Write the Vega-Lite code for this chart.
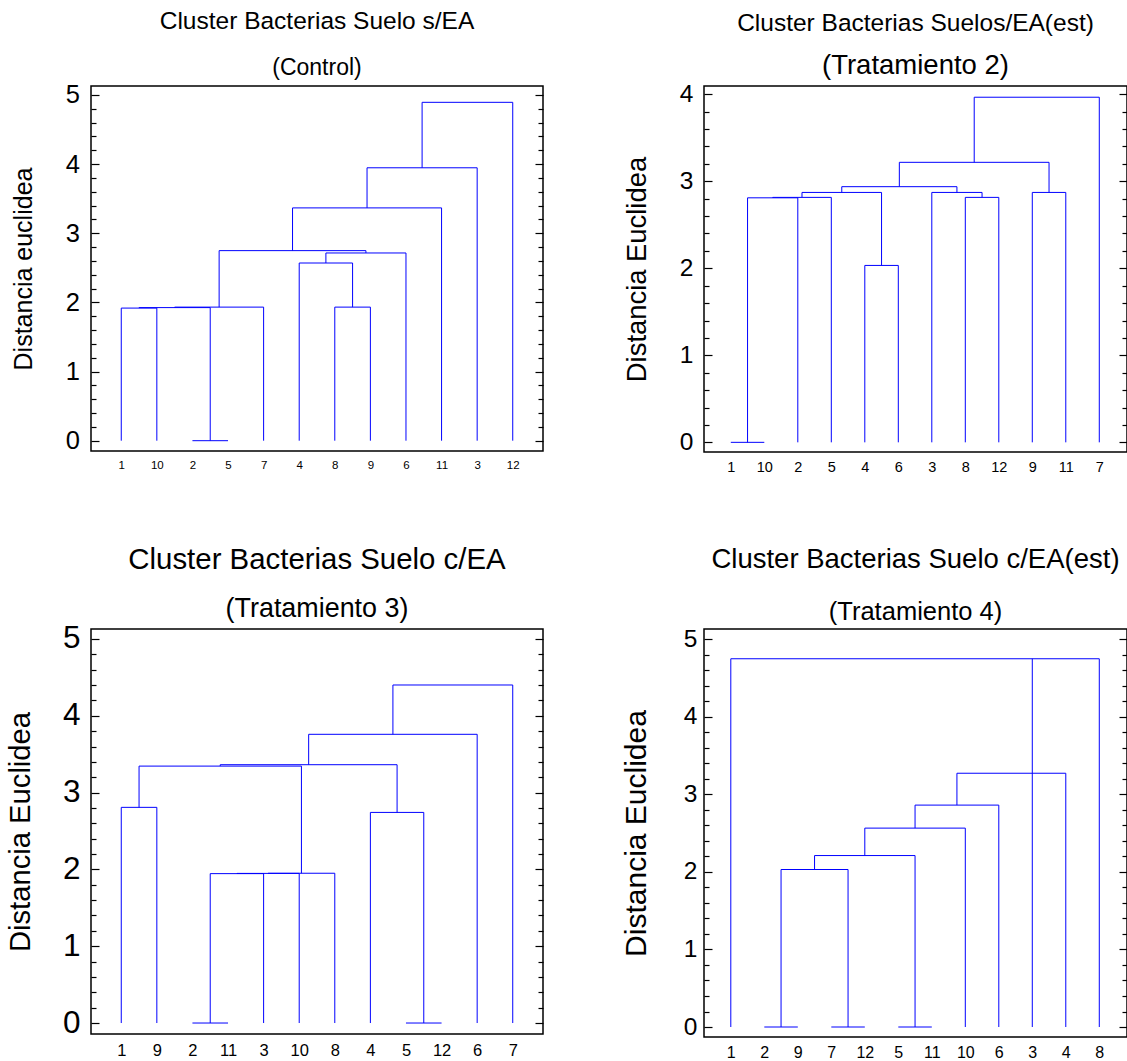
{
  "$schema": "https://vega.github.io/schema/vega-lite/v6.json",
  "autosize": "none",
  "padding": {"left": 91, "top": 86, "right": 1036, "bottom": 975},
  "background": "white",
  "config": {
    "font": "Liberation Sans",
    "view": {"stroke": "#000000", "strokeWidth": 1.5},
    "axis": {"grid": false, "domain": false, "labelColor": "#000000", "titleColor": "#000000", "titleFontWeight": "normal", "tickColor": "#000000", "tickWidth": 1.2, "labelOverlap": false, "labelFlush": false},
    "title": {"color": "#000000", "subtitleColor": "#000000", "fontWeight": "normal", "subtitleFontWeight": "normal", "anchor": "middle", "frame": "group"}
  },
  "datasets": {
    "p1": [
      {"x": 3, "x2": 4, "y": 0, "y2": 0},
      {"x": 1, "x2": 2, "y": 1.918, "y2": 1.918},
      {"x": 1.5, "x2": 3.5, "y": 1.925, "y2": 1.925},
      {"x": 2.5, "x2": 5, "y": 1.932, "y2": 1.932},
      {"x": 7, "x2": 8, "y": 1.932, "y2": 1.932},
      {"x": 6, "x2": 7.5, "y": 2.57, "y2": 2.57},
      {"x": 6.75, "x2": 9, "y": 2.715, "y2": 2.715},
      {"x": 3.75, "x2": 7.875, "y": 2.749, "y2": 2.749},
      {"x": 5.8125, "x2": 10, "y": 3.367, "y2": 3.367},
      {"x": 7.906, "x2": 11, "y": 3.947, "y2": 3.947},
      {"x": 9.453, "x2": 12, "y": 4.894, "y2": 4.894},
      {"x": 1, "x2": 1, "y": 0, "y2": 1.918},
      {"x": 2, "x2": 2, "y": 0, "y2": 1.918},
      {"x": 1.5, "x2": 1.5, "y": 1.918, "y2": 1.925},
      {"x": 3.5, "x2": 3.5, "y": 0, "y2": 1.925},
      {"x": 2.5, "x2": 2.5, "y": 1.925, "y2": 1.932},
      {"x": 5, "x2": 5, "y": 0, "y2": 1.932},
      {"x": 7, "x2": 7, "y": 0, "y2": 1.932},
      {"x": 8, "x2": 8, "y": 0, "y2": 1.932},
      {"x": 6, "x2": 6, "y": 0, "y2": 2.57},
      {"x": 7.5, "x2": 7.5, "y": 1.932, "y2": 2.57},
      {"x": 6.75, "x2": 6.75, "y": 2.57, "y2": 2.715},
      {"x": 9, "x2": 9, "y": 0, "y2": 2.715},
      {"x": 3.75, "x2": 3.75, "y": 1.932, "y2": 2.749},
      {"x": 7.875, "x2": 7.875, "y": 2.715, "y2": 2.749},
      {"x": 5.8125, "x2": 5.8125, "y": 2.749, "y2": 3.367},
      {"x": 10, "x2": 10, "y": 0, "y2": 3.367},
      {"x": 7.906, "x2": 7.906, "y": 3.367, "y2": 3.947},
      {"x": 11, "x2": 11, "y": 0, "y2": 3.947},
      {"x": 9.453, "x2": 9.453, "y": 3.947, "y2": 4.894},
      {"x": 12, "x2": 12, "y": 0, "y2": 4.894}
    ],
    "p2": [
      {"x": 1, "x2": 2, "y": 0, "y2": 0},
      {"x": 1.5, "x2": 3, "y": 2.81, "y2": 2.81},
      {"x": 2.25, "x2": 4, "y": 2.815, "y2": 2.815},
      {"x": 5, "x2": 6, "y": 2.033, "y2": 2.033},
      {"x": 3.125, "x2": 5.5, "y": 2.872, "y2": 2.872},
      {"x": 8, "x2": 9, "y": 2.815, "y2": 2.815},
      {"x": 7, "x2": 8.5, "y": 2.872, "y2": 2.872},
      {"x": 4.3125, "x2": 7.75, "y": 2.938, "y2": 2.938},
      {"x": 10, "x2": 11, "y": 2.872, "y2": 2.872},
      {"x": 6.031, "x2": 10.5, "y": 3.218, "y2": 3.218},
      {"x": 8.266, "x2": 12, "y": 3.966, "y2": 3.966},
      {"x": 1.5, "x2": 1.5, "y": 0, "y2": 2.81},
      {"x": 3, "x2": 3, "y": 0, "y2": 2.81},
      {"x": 2.25, "x2": 2.25, "y": 2.81, "y2": 2.815},
      {"x": 4, "x2": 4, "y": 0, "y2": 2.815},
      {"x": 5, "x2": 5, "y": 0, "y2": 2.033},
      {"x": 6, "x2": 6, "y": 0, "y2": 2.033},
      {"x": 3.125, "x2": 3.125, "y": 2.815, "y2": 2.872},
      {"x": 5.5, "x2": 5.5, "y": 2.033, "y2": 2.872},
      {"x": 8, "x2": 8, "y": 0, "y2": 2.815},
      {"x": 9, "x2": 9, "y": 0, "y2": 2.815},
      {"x": 7, "x2": 7, "y": 0, "y2": 2.872},
      {"x": 8.5, "x2": 8.5, "y": 2.815, "y2": 2.872},
      {"x": 4.3125, "x2": 4.3125, "y": 2.872, "y2": 2.938},
      {"x": 7.75, "x2": 7.75, "y": 2.872, "y2": 2.938},
      {"x": 10, "x2": 10, "y": 0, "y2": 2.872},
      {"x": 11, "x2": 11, "y": 0, "y2": 2.872},
      {"x": 6.031, "x2": 6.031, "y": 2.938, "y2": 3.218},
      {"x": 10.5, "x2": 10.5, "y": 2.872, "y2": 3.218},
      {"x": 8.266, "x2": 8.266, "y": 3.218, "y2": 3.966},
      {"x": 12, "x2": 12, "y": 0, "y2": 3.966}
    ],
    "p3": [
      {"x": 1, "x2": 2, "y": 2.808, "y2": 2.808},
      {"x": 3, "x2": 4, "y": 0, "y2": 0},
      {"x": 3.5, "x2": 5, "y": 1.945, "y2": 1.945},
      {"x": 4.25, "x2": 6, "y": 1.948, "y2": 1.948},
      {"x": 5.125, "x2": 7, "y": 1.95, "y2": 1.95},
      {"x": 1.5, "x2": 6.0625, "y": 3.345, "y2": 3.345},
      {"x": 9, "x2": 10, "y": 0, "y2": 0},
      {"x": 8, "x2": 9.5, "y": 2.742, "y2": 2.742},
      {"x": 3.781, "x2": 8.75, "y": 3.363, "y2": 3.363},
      {"x": 6.266, "x2": 11, "y": 3.759, "y2": 3.759},
      {"x": 8.633, "x2": 12, "y": 4.401, "y2": 4.401},
      {"x": 1, "x2": 1, "y": 0, "y2": 2.808},
      {"x": 2, "x2": 2, "y": 0, "y2": 2.808},
      {"x": 3.5, "x2": 3.5, "y": 0, "y2": 1.945},
      {"x": 5, "x2": 5, "y": 0, "y2": 1.945},
      {"x": 4.25, "x2": 4.25, "y": 1.945, "y2": 1.948},
      {"x": 6, "x2": 6, "y": 0, "y2": 1.948},
      {"x": 5.125, "x2": 5.125, "y": 1.948, "y2": 1.95},
      {"x": 7, "x2": 7, "y": 0, "y2": 1.95},
      {"x": 1.5, "x2": 1.5, "y": 2.808, "y2": 3.345},
      {"x": 6.0625, "x2": 6.0625, "y": 1.95, "y2": 3.345},
      {"x": 8, "x2": 8, "y": 0, "y2": 2.742},
      {"x": 9.5, "x2": 9.5, "y": 0, "y2": 2.742},
      {"x": 3.781, "x2": 3.781, "y": 3.345, "y2": 3.363},
      {"x": 8.75, "x2": 8.75, "y": 2.742, "y2": 3.363},
      {"x": 6.266, "x2": 6.266, "y": 3.363, "y2": 3.759},
      {"x": 11, "x2": 11, "y": 0, "y2": 3.759},
      {"x": 8.633, "x2": 8.633, "y": 3.759, "y2": 4.401},
      {"x": 12, "x2": 12, "y": 0, "y2": 4.401}
    ],
    "p4": [
      {"x": 2, "x2": 3, "y": 0, "y2": 0},
      {"x": 4, "x2": 5, "y": 0, "y2": 0},
      {"x": 6, "x2": 7, "y": 0, "y2": 0},
      {"x": 2.5, "x2": 4.5, "y": 2.032, "y2": 2.032},
      {"x": 3.5, "x2": 6.5, "y": 2.212, "y2": 2.212},
      {"x": 5, "x2": 8, "y": 2.566, "y2": 2.566},
      {"x": 6.5, "x2": 9, "y": 2.863, "y2": 2.863},
      {"x": 7.75, "x2": 11, "y": 3.274, "y2": 3.274},
      {"x": 1, "x2": 12, "y": 4.751, "y2": 4.751},
      {"x": 2.5, "x2": 2.5, "y": 0, "y2": 2.032},
      {"x": 4.5, "x2": 4.5, "y": 0, "y2": 2.032},
      {"x": 3.5, "x2": 3.5, "y": 2.032, "y2": 2.212},
      {"x": 6.5, "x2": 6.5, "y": 0, "y2": 2.212},
      {"x": 5, "x2": 5, "y": 2.212, "y2": 2.566},
      {"x": 8, "x2": 8, "y": 0, "y2": 2.566},
      {"x": 6.5, "x2": 6.5, "y": 2.566, "y2": 2.863},
      {"x": 9, "x2": 9, "y": 0, "y2": 2.863},
      {"x": 7.75, "x2": 7.75, "y": 2.863, "y2": 3.274},
      {"x": 11, "x2": 11, "y": 0, "y2": 3.274},
      {"x": 10, "x2": 10, "y": 0, "y2": 4.751},
      {"x": 1, "x2": 1, "y": 0, "y2": 4.751},
      {"x": 12, "x2": 12, "y": 0, "y2": 4.751}
    ]
  },
  "columns": 2,
  "bounds": "flush",
  "align": "each",
  "spacing": {"row": 177, "column": 161},
  "concat": [
    {
      "width": 452, "height": 365,
      "data": {"name": "p1"},
      "title": {"text": "Cluster Bacterias Suelo s/EA", "subtitle": "(Control)", "fontSize": 24.5, "subtitleFontSize": 23, "offset": 2, "subtitlePadding": 22},
      "layer": [
        {
          "mark": {"type": "rule", "color": "#0000ff", "strokeWidth": 1},
          "encoding": {
            "x": {"field": "x", "type": "quantitative", "scale": {"domain": [0.15, 12.85], "nice": false, "zero": false},
              "axis": {"values": [1,2,3,4,5,6,7,8,9,10,11,12], "labelExpr": "datum.value==1?'1':datum.value==2?'10':datum.value==3?'2':datum.value==4?'5':datum.value==5?'7':datum.value==6?'4':datum.value==7?'8':datum.value==8?'9':datum.value==9?'6':datum.value==10?'11':datum.value==11?'3':'12'", "ticks": false, "tickSize": 0, "labelFontSize": 11.5, "labelPadding": 8, "title": null}},
            "x2": {"field": "x2"},
            "y": {"field": "y", "type": "quantitative", "scale": {"domain": [-0.149, 5.13], "nice": false, "zero": false},
              "axis": {"orient": "left", "values": [0,0.2,0.4,0.6,0.8,1,1.2,1.4,1.6,1.8,2,2.2,2.4,2.6,2.8,3,3.2,3.4,3.6,3.8,4,4.2,4.4,4.6,4.8,5], "labelExpr": "datum.value % 1 === 0 ? '' + datum.value : ''", "tickSize": 0, "labelFontSize": 25.5, "labelPadding": 11.5, "title": "Distancia euclidea", "titleFontSize": 25, "titleX": -59.5, "titleBaseline": "alphabetic", "titleAngle": -90, "titleAlign": "center",
                "encoding": {"ticks": {"x2": {"value": {"expr": "datum.value % 1 === 0 ? 8 : 5"}}}}}},
            "y2": {"field": "y2"}
          }
        },
        {
          "mark": {"type": "rule", "opacity": 0},
          "encoding": {
            "x": {"field": "x", "type": "quantitative", "scale": {"domain": [0.15, 12.85], "nice": false, "zero": false},
              "axis": {"values": [1,2,3,4,5,6,7,8,9,10,11,12], "labelExpr": "datum.value==1?'1':datum.value==2?'10':datum.value==3?'2':datum.value==4?'5':datum.value==5?'7':datum.value==6?'4':datum.value==7?'8':datum.value==8?'9':datum.value==9?'6':datum.value==10?'11':datum.value==11?'3':'12'", "ticks": false, "tickSize": 0, "labelFontSize": 11.5, "labelPadding": 8, "title": null}},
            "x2": {"field": "x2"},
            "y": {"field": "y", "type": "quantitative", "scale": {"domain": [-0.149, 5.13], "nice": false, "zero": false},
              "axis": {"orient": "right", "values": [0,0.2,0.4,0.6,0.8,1,1.2,1.4,1.6,1.8,2,2.2,2.4,2.6,2.8,3,3.2,3.4,3.6,3.8,4,4.2,4.4,4.6,4.8,5], "labels": false, "tickSize": 0, "title": null,
                "encoding": {"ticks": {"x2": {"value": {"expr": "datum.value % 1 === 0 ? -8 : -5"}}}}}},
            "y2": {"field": "y2"}
          }
        }
      ],
      "resolve": {"scale": {"y": "independent"}, "axis": {"y": "independent"}}
    },
    {
      "width": 423, "height": 366,
      "data": {"name": "p2"},
      "title": {"text": "Cluster Bacterias Suelos/EA(est)", "subtitle": "(Tratamiento 2)", "fontSize": 24.5, "subtitleFontSize": 27.5, "offset": 1, "subtitlePadding": 15},
      "layer": [
        {
          "mark": {"type": "rule", "color": "#0000ff", "strokeWidth": 1},
          "encoding": {
            "x": {"field": "x", "type": "quantitative", "scale": {"domain": [0.2, 12.827], "nice": false, "zero": false},
              "axis": {"values": [1,2,3,4,5,6,7,8,9,10,11,12], "labelExpr": "datum.value==1?'1':datum.value==2?'10':datum.value==3?'2':datum.value==4?'5':datum.value==5?'4':datum.value==6?'6':datum.value==7?'3':datum.value==8?'8':datum.value==9?'12':datum.value==10?'9':datum.value==11?'11':'7'", "ticks": false, "tickSize": 0, "labelFontSize": 14.5, "labelPadding": 8, "title": null}},
            "x2": {"field": "x2"},
            "y": {"field": "y", "type": "quantitative", "scale": {"domain": [-0.111, 4.095], "nice": false, "zero": false},
              "axis": {"orient": "left", "values": [0,0.2,0.4,0.6,0.8,1,1.2,1.4,1.6,1.8,2,2.2,2.4,2.6,2.8,3,3.2,3.4,3.6,3.8,4], "labelExpr": "datum.value % 1 === 0 ? '' + datum.value : ''", "tickSize": 0, "labelFontSize": 24.5, "labelPadding": 11, "title": "Distancia Euclidea", "titleFontSize": 27.4, "titleX": -58.5, "titleBaseline": "alphabetic", "titleAngle": -90, "titleAlign": "center",
                "encoding": {"ticks": {"x2": {"value": {"expr": "datum.value % 1 === 0 ? 8 : 5"}}}}}},
            "y2": {"field": "y2"}
          }
        },
        {
          "mark": {"type": "rule", "opacity": 0},
          "encoding": {
            "x": {"field": "x", "type": "quantitative", "scale": {"domain": [0.2, 12.827], "nice": false, "zero": false},
              "axis": {"values": [1,2,3,4,5,6,7,8,9,10,11,12], "labelExpr": "datum.value==1?'1':datum.value==2?'10':datum.value==3?'2':datum.value==4?'5':datum.value==5?'4':datum.value==6?'6':datum.value==7?'3':datum.value==8?'8':datum.value==9?'12':datum.value==10?'9':datum.value==11?'11':'7'", "ticks": false, "tickSize": 0, "labelFontSize": 14.5, "labelPadding": 8, "title": null}},
            "x2": {"field": "x2"},
            "y": {"field": "y", "type": "quantitative", "scale": {"domain": [-0.111, 4.095], "nice": false, "zero": false},
              "axis": {"orient": "right", "values": [0,0.2,0.4,0.6,0.8,1,1.2,1.4,1.6,1.8,2,2.2,2.4,2.6,2.8,3,3.2,3.4,3.6,3.8,4], "labels": false, "tickSize": 0, "title": null,
                "encoding": {"ticks": {"x2": {"value": {"expr": "datum.value % 1 === 0 ? -8 : -5"}}}}}},
            "y2": {"field": "y2"}
          }
        }
      ],
      "resolve": {"scale": {"y": "independent"}, "axis": {"y": "independent"}}
    },
    {
      "width": 452, "height": 405,
      "data": {"name": "p3"},
      "title": {"text": "Cluster Bacterias Suelo c/EA", "subtitle": "(Tratamiento 3)", "fontSize": 29.4, "subtitleFontSize": 26.9, "offset": 0.5, "subtitlePadding": 20},
      "layer": [
        {
          "mark": {"type": "rule", "color": "#0000ff", "strokeWidth": 1},
          "encoding": {
            "x": {"field": "x", "type": "quantitative", "scale": {"domain": [0.15, 12.85], "nice": false, "zero": false},
              "axis": {"values": [1,2,3,4,5,6,7,8,9,10,11,12], "labelExpr": "datum.value==1?'1':datum.value==2?'9':datum.value==3?'2':datum.value==4?'11':datum.value==5?'3':datum.value==6?'10':datum.value==7?'8':datum.value==8?'4':datum.value==9?'5':datum.value==10?'12':datum.value==11?'6':'7'", "ticks": false, "tickSize": 0, "labelFontSize": 16.5, "labelPadding": 8.5, "title": null}},
            "x2": {"field": "x2"},
            "y": {"field": "y", "type": "quantitative", "scale": {"domain": [-0.143, 5.13], "nice": false, "zero": false},
              "axis": {"orient": "left", "values": [0,0.2,0.4,0.6,0.8,1,1.2,1.4,1.6,1.8,2,2.2,2.4,2.6,2.8,3,3.2,3.4,3.6,3.8,4,4.2,4.4,4.6,4.8,5], "labelExpr": "datum.value % 1 === 0 ? '' + datum.value : ''", "tickSize": 0, "labelFontSize": 31.5, "labelPadding": 11, "title": "Distancia Euclidea", "titleFontSize": 29.2, "titleX": -62, "titleBaseline": "alphabetic", "titleAngle": -90, "titleAlign": "center",
                "encoding": {"ticks": {"x2": {"value": {"expr": "datum.value % 1 === 0 ? 8 : 5"}}}}}},
            "y2": {"field": "y2"}
          }
        },
        {
          "mark": {"type": "rule", "opacity": 0},
          "encoding": {
            "x": {"field": "x", "type": "quantitative", "scale": {"domain": [0.15, 12.85], "nice": false, "zero": false},
              "axis": {"values": [1,2,3,4,5,6,7,8,9,10,11,12], "labelExpr": "datum.value==1?'1':datum.value==2?'9':datum.value==3?'2':datum.value==4?'11':datum.value==5?'3':datum.value==6?'10':datum.value==7?'8':datum.value==8?'4':datum.value==9?'5':datum.value==10?'12':datum.value==11?'6':'7'", "ticks": false, "tickSize": 0, "labelFontSize": 16.5, "labelPadding": 8.5, "title": null}},
            "x2": {"field": "x2"},
            "y": {"field": "y", "type": "quantitative", "scale": {"domain": [-0.143, 5.13], "nice": false, "zero": false},
              "axis": {"orient": "right", "values": [0,0.2,0.4,0.6,0.8,1,1.2,1.4,1.6,1.8,2,2.2,2.4,2.6,2.8,3,3.2,3.4,3.6,3.8,4,4.2,4.4,4.6,4.8,5], "labels": false, "tickSize": 0, "title": null,
                "encoding": {"ticks": {"x2": {"value": {"expr": "datum.value % 1 === 0 ? -8 : -5"}}}}}},
            "y2": {"field": "y2"}
          }
        }
      ],
      "resolve": {"scale": {"y": "independent"}, "axis": {"y": "independent"}}
    },
    {
      "width": 423, "height": 408,
      "data": {"name": "p4"},
      "title": {"text": "Cluster Bacterias Suelo c/EA(est)", "subtitle": "(Tratamiento 4)", "fontSize": 27.5, "subtitleFontSize": 25.5, "offset": 0.5, "subtitlePadding": 27},
      "layer": [
        {
          "mark": {"type": "rule", "color": "#0000ff", "strokeWidth": 1},
          "encoding": {
            "x": {"field": "x", "type": "quantitative", "scale": {"domain": [0.2, 12.827], "nice": false, "zero": false},
              "axis": {"values": [1,2,3,4,5,6,7,8,9,10,11,12], "labelExpr": "datum.value==1?'1':datum.value==2?'2':datum.value==3?'9':datum.value==4?'7':datum.value==5?'12':datum.value==6?'5':datum.value==7?'11':datum.value==8?'10':datum.value==9?'6':datum.value==10?'3':datum.value==11?'4':'8'", "ticks": false, "tickSize": 0, "labelFontSize": 16, "labelPadding": 7.5, "title": null}},
            "x2": {"field": "x2"},
            "y": {"field": "y", "type": "quantitative", "scale": {"domain": [-0.129, 5.135], "nice": false, "zero": false},
              "axis": {"orient": "left", "values": [0,0.2,0.4,0.6,0.8,1,1.2,1.4,1.6,1.8,2,2.2,2.4,2.6,2.8,3,3.2,3.4,3.6,3.8,4,4.2,4.4,4.6,4.8,5], "labelExpr": "datum.value % 1 === 0 ? '' + datum.value : ''", "tickSize": 0, "labelFontSize": 24.5, "labelPadding": 7, "title": "Distancia Euclidea", "titleFontSize": 30, "titleX": -58.5, "titleBaseline": "alphabetic", "titleAngle": -90, "titleAlign": "center",
                "encoding": {"ticks": {"x2": {"value": {"expr": "datum.value % 1 === 0 ? 8 : 5"}}}}}},
            "y2": {"field": "y2"}
          }
        },
        {
          "mark": {"type": "rule", "opacity": 0},
          "encoding": {
            "x": {"field": "x", "type": "quantitative", "scale": {"domain": [0.2, 12.827], "nice": false, "zero": false},
              "axis": {"values": [1,2,3,4,5,6,7,8,9,10,11,12], "labelExpr": "datum.value==1?'1':datum.value==2?'2':datum.value==3?'9':datum.value==4?'7':datum.value==5?'12':datum.value==6?'5':datum.value==7?'11':datum.value==8?'10':datum.value==9?'6':datum.value==10?'3':datum.value==11?'4':'8'", "ticks": false, "tickSize": 0, "labelFontSize": 16, "labelPadding": 7.5, "title": null}},
            "x2": {"field": "x2"},
            "y": {"field": "y", "type": "quantitative", "scale": {"domain": [-0.129, 5.135], "nice": false, "zero": false},
              "axis": {"orient": "right", "values": [0,0.2,0.4,0.6,0.8,1,1.2,1.4,1.6,1.8,2,2.2,2.4,2.6,2.8,3,3.2,3.4,3.6,3.8,4,4.2,4.4,4.6,4.8,5], "labels": false, "tickSize": 0, "title": null,
                "encoding": {"ticks": {"x2": {"value": {"expr": "datum.value % 1 === 0 ? -8 : -5"}}}}}},
            "y2": {"field": "y2"}
          }
        }
      ],
      "resolve": {"scale": {"y": "independent"}, "axis": {"y": "independent"}}
    }
  ]
}
